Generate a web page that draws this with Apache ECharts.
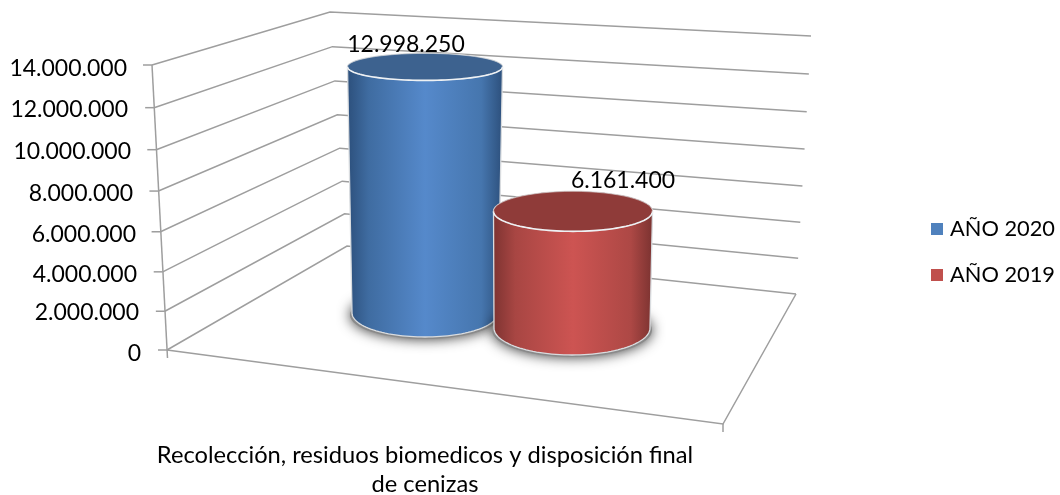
<!DOCTYPE html>
<html>
<head>
<meta charset="utf-8">
<style>html,body{margin:0;padding:0;background:#fff}#c{width:1060px;height:495px}</style>
<script src="https://cdn.jsdelivr.net/npm/echarts@6/dist/echarts.min.js"></script>
</head>
<body>
<div id="c"></div>
<script>
// ---- data ----
const categories = ['Recolección, residuos biomedicos y disposición final\nde cenizas'];
const seriesNames = ['AÑO 2020', 'AÑO 2019'];
const values2020 = [12998250];
const values2019 = [6161400];
const tickValues = [0, 2000000, 4000000, 6000000, 8000000, 10000000, 12000000, 14000000];
const tickLabels = ['0', '2.000.000', '4.000.000', '6.000.000', '8.000.000', '10.000.000', '12.000.000', '14.000.000'];
const dataLabels2020 = ['12.998.250'];
const dataLabels2019 = ['6.161.400'];

// ---- appearance ----
const FONT = 'Lato';
const AXIS_MAX = 14000000;
const GRID_LINE = '#9e9e9e';
const labelRightPad = [0, 2, 4, 5, 8, 10, 13, 14];   // labels follow the tilted axis
const labelDown = [4, 3, 6, 7, 6, 5, 4, 4];
const wall = {
  frontTilt: 15, frontBow: 16,
  backDx: 180, backDy: -104, backTilt: 17, backRise: 234, backBow: 10,
  rightDx: 629, rightDy: -56, rightTilt: -15, rightRise: 258, rightBow: 10,
  cornerDx: 556, cornerDy: 74, tail: 8, stub: 9
};
const STOP_AT = [0, 0.14, 0.5, 0.86, 1];
const cyl2020 = {
  dx: 0, baseDy: -37, rise: 0.93, rxBase: 73, rxTop: 77.5, ryBase: 24, ryTop: 13.5, topDx: 0,
  labelDx: -19, labelDy: -23,
  stops: ['#2c4f7b', '#3f6ca1', '#5589cb', '#4676ae', '#2c4f7b'], top: '#3d628f'
};
const cyl2019 = {
  dx: 147, baseDy: -22, rise: 0.93, rxBase: 78, rxTop: 79.5, ryBase: 27, ryTop: 20, topDx: 1,
  labelDx: 51, labelDy: -25,
  stops: ['#7d3331', '#a84643', '#cd5452', '#ad4845', '#7a3230'], top: '#8f3b39'
};

function wallSeries() {
  return {
    type: 'custom', silent: true, z: 1,
    data: tickValues.map(v => [0, v]),
    encode: { x: 0, y: 1 },
    renderItem(params, api) {
      const v = api.value(1), t = v / AXIS_MAX, bow = t * (1 - t);
      const y0 = api.coord([0, 0])[1];
      const fx = gridLeft - wall.frontTilt * t;
      const fy = api.coord([0, v])[1] + wall.frontBow * bow;
      const bx = gridLeft + wall.backDx - wall.backTilt * t;
      const by = y0 + wall.backDy - wall.backRise * t + wall.backBow * bow;
      const rx = gridLeft + wall.rightDx - wall.rightTilt * t;
      const ry = y0 + wall.rightDy - wall.rightRise * t + wall.rightBow * bow;
      const ln = { fill: 'none', stroke: GRID_LINE, lineWidth: 1.5 };
      const kids = [
        { type: 'polyline', shape: { points: [[fx, fy], [bx, by], [rx, ry]] }, style: ln },
        { type: 'line', shape: { x1: fx - wall.stub, y1: fy, x2: fx, y2: fy }, style: ln }
      ];
      if (v === 0) {
        const cx = gridLeft + wall.cornerDx, cy = y0 + wall.cornerDy;
        kids.push({ type: 'polyline', shape: { points: [[fx, fy], [cx, cy], [rx, ry]] }, style: ln });
        kids.push({ type: 'line', shape: { x1: cx, y1: cy, x2: cx, y2: cy + wall.tail }, style: ln });
        const tx = gridLeft - wall.frontTilt, ty = api.coord([0, AXIS_MAX])[1];
        kids.push({ type: 'line', shape: { x1: tx, y1: ty, x2: fx + 0.5, y2: fy + wall.tail }, style: ln });
      }
      return { type: 'group', children: kids };
    }
  };
}

function arc(cx, cy, rx, ry, a0, a1, n) {
  const p = [];
  for (let i = 0; i <= n; i++) {
    const a = a0 + (a1 - a0) * i / n;
    p.push([cx + rx * Math.cos(a), cy + ry * Math.sin(a)]);
  }
  return p;
}

function cylinderSeries(name, values, labels, c, color, z) {
  return {
    type: 'custom', name, z, silent: true,
    itemStyle: { color },
    data: values.map((v, i) => [i, v]),
    encode: { x: 0, y: 1 },
    renderItem(params, api) {
      const v = api.value(1);
      const p = api.coord([api.value(0), v]);
      const o = api.coord([api.value(0), 0]);
      const cx = p[0] + c.dx;
      const baseY = o[1] + c.baseDy;
      const topY = baseY - (o[1] - p[1]) * c.rise;
      const tx = cx + c.topDx;
      const body = arc(cx, baseY, c.rxBase, c.ryBase, 0, Math.PI, 60)
        .concat(arc(tx, topY, c.rxTop, c.ryTop, Math.PI, 2 * Math.PI, 60));
      const colorStops = c.stops.map((col, i) => ({ offset: STOP_AT[i], color: col }));
      return {
        type: 'group',
        children: [
          { type: 'ellipse', shape: { cx, cy: baseY + 2, rx: c.rxBase + 2, ry: c.ryBase },
            style: { fill: '#8a8a8a', shadowBlur: 13, shadowColor: 'rgba(0,0,0,0.8)' } },
          { type: 'polygon', shape: { points: body },
            style: { fill: { type: 'linear', x: 0, y: 0, x2: 1, y2: 0, colorStops }, stroke: '#d9dcdf', lineWidth: 1.3 } },
          { type: 'ellipse', shape: { cx: tx, cy: topY, rx: c.rxTop, ry: c.ryTop },
            style: { fill: c.top, stroke: 'rgba(225,225,225,0.55)', lineWidth: 1 } },
          { type: 'polyline', shape: { points: arc(tx, topY, c.rxTop, c.ryTop, 0, Math.PI, 60) },
            style: { fill: 'none', stroke: '#eef1f4', lineWidth: 1.6 } },
          { type: 'text', z2: 5,
            style: { text: labels[params.dataIndex], x: cx + c.labelDx, y: topY - c.ryTop + c.labelDy + 14,
              fill: '#000', font: '23px ' + FONT, textAlign: 'center', textVerticalAlign: 'middle' } }
        ]
      };
    }
  };
}

const gridLeft = 167;
const rich = {};
tickLabels.forEach((s, i) => {
  rich['l' + i] = { fontFamily: FONT, fontSize: 23, color: '#000',
    padding: [labelDown[i] * 2, labelRightPad[i], 0, 0] };
});

const chart = echarts.init(document.getElementById('c'), null, { renderer: 'canvas' });
chart.setOption({
  animation: false,
  backgroundColor: '#fff',
  legend: {
    orient: 'vertical', left: 926, top: 213, itemWidth: 12, itemHeight: 12, itemGap: 24,
    icon: 'rect', data: seriesNames, selectedMode: false,
    textStyle: { fontFamily: FONT, fontSize: 21.8, color: '#000', padding: [0, 0, 0, 2] }
  },
  grid: { left: gridLeft, top: 65, width: 516, height: 285, outerBoundsMode: 'none' },
  xAxis: {
    type: 'category', data: categories,
    axisLine: { show: false }, axisTick: { show: false }, splitLine: { show: false },
    axisLabel: { margin: 91, lineHeight: 29, fontFamily: FONT, fontSize: 23.7, color: '#000', interval: 0 }
  },
  yAxis: {
    type: 'value', min: 0, max: AXIS_MAX, interval: 2000000,
    axisLine: { show: false }, axisTick: { show: false }, splitLine: { show: false },
    axisLabel: {
      margin: 26,
      formatter(value) {
        const i = tickValues.indexOf(value);
        return '{l' + i + '|' + tickLabels[i] + '}';
      },
      rich
    }
  },
  series: [
    wallSeries(),
    cylinderSeries(seriesNames[0], values2020, dataLabels2020, cyl2020, '#4f81bd', 3),
    cylinderSeries(seriesNames[1], values2019, dataLabels2019, cyl2019, '#c0504d', 4)
  ]
});
</script>
</body>
</html>
